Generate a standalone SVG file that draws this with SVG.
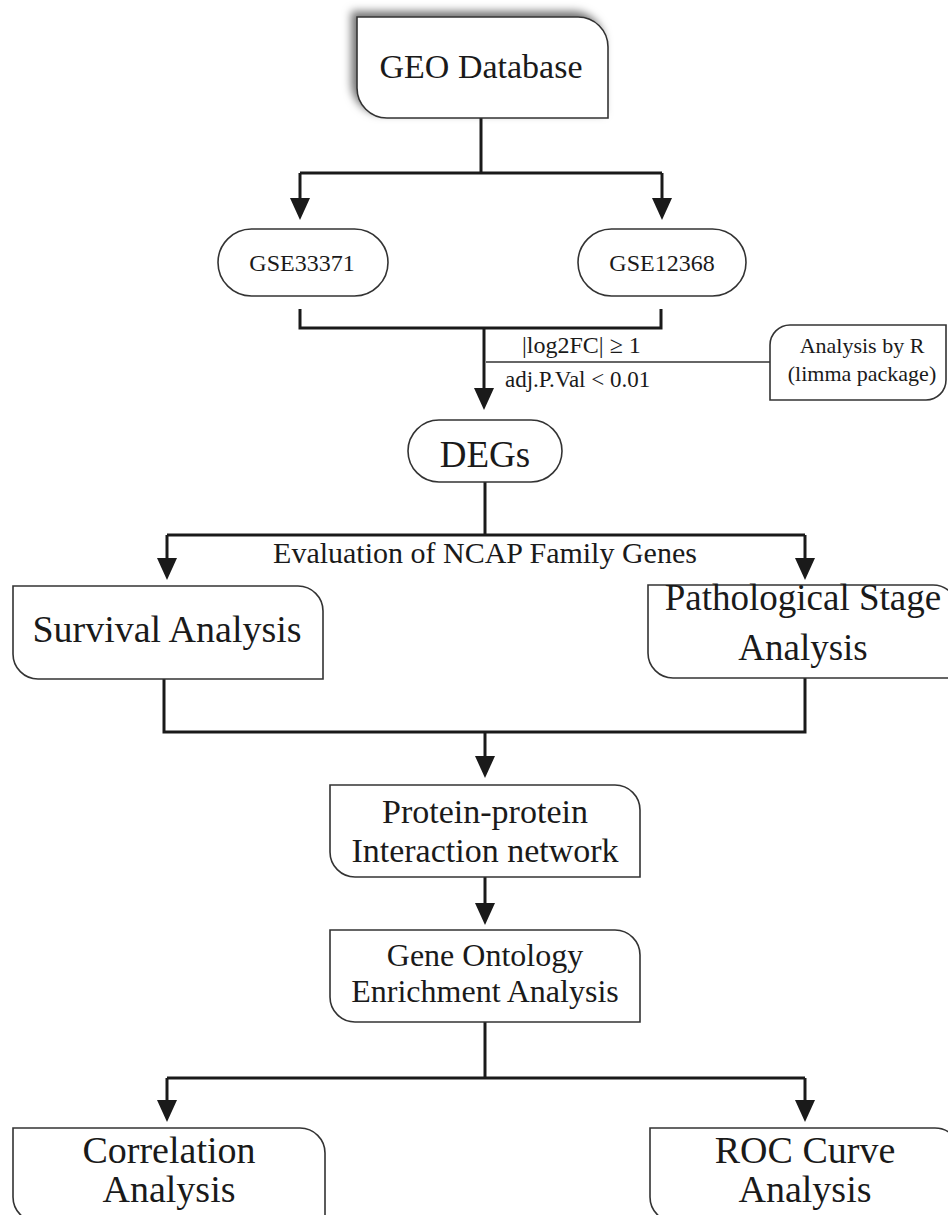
<svg xmlns="http://www.w3.org/2000/svg" width="948" height="1215" viewBox="0 0 948 1215">
<style>
.box{fill:#fff;stroke:#333;stroke-width:1.6}
.conn{fill:none;stroke:#1a1a1a;stroke-width:3}
.thin{fill:none;stroke:#333;stroke-width:1.4}
text{font-family:"Liberation Serif","Times New Roman",serif;fill:#1a1a1a;text-anchor:middle}
</style>
<defs>
<marker id="arr" markerUnits="userSpaceOnUse" viewBox="0 0 22 20" markerWidth="22" markerHeight="20" refX="10" refY="10" orient="auto">
<path d="M0,0 L22,10 L0,20 Z" fill="#1a1a1a"/>
</marker>
<filter id="shadow" x="-20%" y="-30%" width="140%" height="160%">
<feDropShadow dx="-5" dy="-5" stdDeviation="4" flood-color="#000" flood-opacity="0.55"/>
</filter>
</defs>
<rect width="948" height="1215" fill="#fff"/>

<g id="connectors">
<path class="conn" d="M481,118 V173"/>
<path class="conn" d="M300,173 H662"/>
<path class="conn" d="M300,173 V208" marker-end="url(#arr)"/>
<path class="conn" d="M662,173 V208" marker-end="url(#arr)"/>
<path class="conn" d="M300,309 V328 H661 V309"/>
<path class="conn" d="M484,328 V398" marker-end="url(#arr)"/>
<path class="thin" d="M486,362 H770"/>
<path class="conn" d="M485,482 V535"/>
<path class="conn" d="M167,535 H805"/>
<path class="conn" d="M167,535 V568" marker-end="url(#arr)"/>
<path class="conn" d="M805,535 V568" marker-end="url(#arr)"/>
<path class="conn" d="M164,679 V732 H805 V678"/>
<path class="conn" d="M485,732 V766" marker-end="url(#arr)"/>
<path class="conn" d="M485,877 V913" marker-end="url(#arr)"/>
<path class="conn" d="M485,1022 V1078"/>
<path class="conn" d="M167,1078 H805"/>
<path class="conn" d="M167,1078 V1110" marker-end="url(#arr)"/>
<path class="conn" d="M805,1078 V1110" marker-end="url(#arr)"/>
</g>

<g id="label-criteria">
<text x="522" y="353" font-size="24" style="text-anchor:start">|log2FC| ≥ 1</text>
<text x="505" y="387" font-size="23" style="text-anchor:start">adj.P.Val &lt; 0.01</text>
</g>
<g id="label-evaluation">
<text x="485" y="563" font-size="30">Evaluation of NCAP Family Genes</text>
</g>

<g id="geo">
<path class="box" filter="url(#shadow)" d="M357,17 H578 A30,30 0 0 1 608,47 V118 H387 A30,30 0 0 1 357,88 Z"/>
<text x="481" y="78" font-size="34">GEO Database</text>
</g>

<g id="gse33371">
<rect class="box" x="218" y="229" width="170" height="67" rx="33.5"/>
<text x="302" y="271" font-size="24">GSE33371</text>
</g>

<g id="gse12368">
<rect class="box" x="578" y="229" width="168" height="67" rx="33.5"/>
<text x="662" y="271" font-size="24">GSE12368</text>
</g>

<g id="analysis-r">
<path class="box" d="M770,345 A20,20 0 0 1 790,325 H946 V380 A20,20 0 0 1 926,400 H770 Z"/>
<text x="862" y="353" font-size="22">Analysis by R</text>
<text x="862" y="381" font-size="22">(limma package)</text>
</g>

<g id="degs">
<rect class="box" x="408" y="420" width="154" height="62" rx="31"/>
<text x="485" y="467" font-size="37">DEGs</text>
</g>

<g id="survival">
<path class="box" d="M13,586 H298 A25,25 0 0 1 323,611 V679 H38 A25,25 0 0 1 13,654 Z"/>
<text x="167" y="642" font-size="38">Survival Analysis</text>
</g>

<g id="pathological">
<path class="box" d="M648,585 H933 A25,25 0 0 1 958,610 V678 H673 A25,25 0 0 1 648,653 Z"/>
<text x="803" y="610" font-size="37">Pathological Stage</text>
<text x="803" y="660" font-size="37">Analysis</text>
</g>

<g id="ppi">
<path class="box" d="M330,785 H615 A25,25 0 0 1 640,810 V877 H355 A25,25 0 0 1 330,852 Z"/>
<text x="485" y="823" font-size="34">Protein-protein</text>
<text x="485" y="862" font-size="34">Interaction network</text>
</g>

<g id="go">
<path class="box" d="M330,930 H615 A25,25 0 0 1 640,955 V1022 H355 A25,25 0 0 1 330,997 Z"/>
<text x="485" y="966" font-size="32">Gene Ontology</text>
<text x="485" y="1002" font-size="32">Enrichment Analysis</text>
</g>

<g id="correlation">
<path class="box" d="M13,1128 H300 A25,25 0 0 1 325,1153 V1222 H38 A25,25 0 0 1 13,1197 Z"/>
<text x="169" y="1163" font-size="38">Correlation</text>
<text x="169" y="1202" font-size="38">Analysis</text>
</g>

<g id="roc">
<path class="box" d="M650,1128 H935 A25,25 0 0 1 960,1153 V1222 H675 A25,25 0 0 1 650,1197 Z"/>
<text x="805" y="1163" font-size="38">ROC Curve</text>
<text x="805" y="1202" font-size="38">Analysis</text>
</g>
</svg>
